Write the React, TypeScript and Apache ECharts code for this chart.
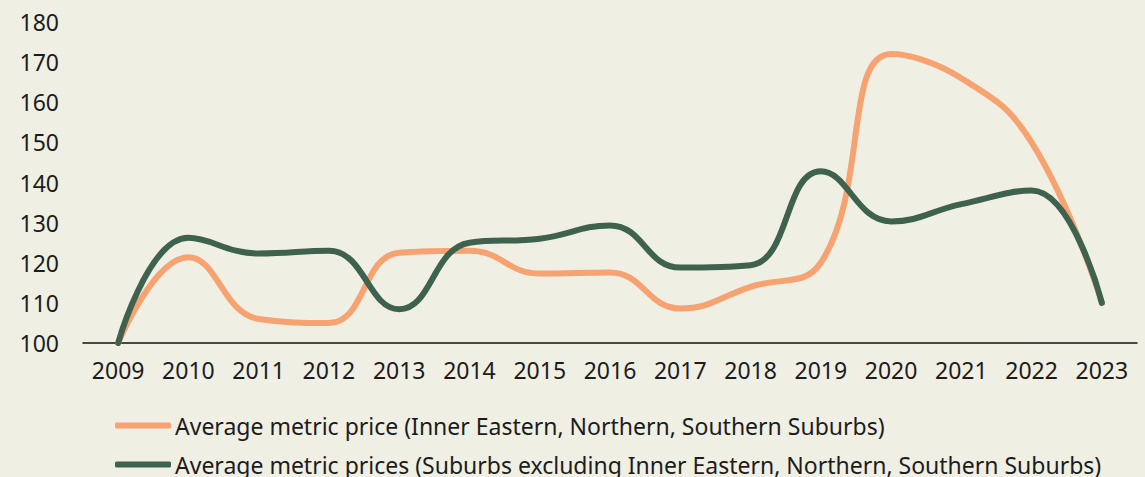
import React, { useEffect, useRef } from "react";
import * as echarts from "echarts";

const years = ["2009", "2010", "2011", "2012", "2013", "2014", "2015", "2016", "2017", "2018", "2019", "2020", "2021", "2022", "2023"];
const innerSeriesName = "Average metric price (Inner Eastern, Northern, Southern Suburbs)";
const outerSeriesName = "Average metric prices (Suburbs excluding Inner Eastern, Northern, Southern Suburbs)";
const innerValues = [100, 121.4, 106, 105, 122.5, 123, 117.3, 117.6, 108.6, 114, 120, 172, 166, 150, 110];
const outerValues = [100, 126.2, 122.3, 123, 108.4, 125, 126, 129.3, 118.8, 119.4, 142.8, 130.3, 134.6, 138, 110];

const FONT = "'Noto Sans', sans-serif";
const TEXT = "#1c1c1c";

const legendBase = {
  orient: "horizontal",
  left: 110,
  padding: 5,
  itemWidth: 56,
  itemHeight: 6,
  icon: "roundRect",
  textStyle: { color: TEXT, fontSize: 23, fontFamily: FONT, padding: [0, 0, 0, -1] },
};

export default function App() {
  const ref = useRef<HTMLDivElement>(null);
  useEffect(() => {
    if (!ref.current) return;
    const chart = echarts.init(ref.current, null, { renderer: "svg" });
    chart.setOption({
      animation: false,
      backgroundColor: "#F0EFE4",
      textStyle: { fontFamily: FONT, color: TEXT },
      grid: { left: 83, right: 8, top: 22, bottom: 134, containLabel: false },
      xAxis: {
        type: "category",
        data: years,
        boundaryGap: true,
        axisLine: { lineStyle: { color: "#111", width: 1.5 } },
        axisTick: { show: false },
        axisLabel: { color: TEXT, fontSize: 23, fontFamily: FONT, margin: 15 },
      },
      yAxis: {
        type: "value",
        min: 100,
        max: 180,
        interval: 10,
        axisLine: { show: false },
        axisTick: { show: false },
        splitLine: { show: false },
        axisLabel: { color: TEXT, fontSize: 23, fontFamily: FONT, margin: 24 },
      },
      legend: [
        { ...legendBase, top: 409, data: [innerSeriesName] },
        { ...legendBase, top: 448, data: [outerSeriesName] },
      ],
      series: [
        {
          name: innerSeriesName,
          type: "line",
          data: innerValues,
          smooth: 0.45,
          showSymbol: false,
          symbol: "none",
          itemStyle: { color: "#F6A271" },
          lineStyle: { color: "#F6A271", width: 6, cap: "round" },
        },
        {
          name: outerSeriesName,
          type: "line",
          data: outerValues,
          smooth: 0.45,
          showSymbol: false,
          symbol: "none",
          itemStyle: { color: "#3F624E" },
          lineStyle: { color: "#3F624E", width: 6, cap: "round" },
        },
      ],
    });
    return () => chart.dispose();
  }, []);
  return <div ref={ref} style={{ width: 1145, height: 477, position: "absolute", left: 0, top: 0 }} />;
}
